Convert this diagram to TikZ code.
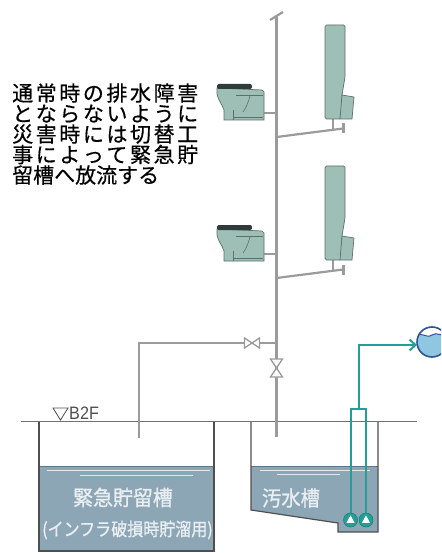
\documentclass[tikz,border=0pt]{standalone}
\usepackage{fontspec}
\usetikzlibrary{arrows.meta}
\newfontfamily\jpfont[FakeBold=0.5]{Noto Sans CJK JP}
\newfontfamily\jpheavy[FakeBold=1.2]{Noto Sans CJK JP}
\newfontfamily\labelfont{Liberation Sans}

\definecolor{pipe}{HTML}{9B9B9B}
\definecolor{fixture}{HTML}{9DBFB5}
\definecolor{fixedge}{HTML}{5E6E6A}
\definecolor{lidcol}{HTML}{2E3B3A}
\definecolor{water}{HTML}{8CA6B6}
\definecolor{tankline}{HTML}{4F4F4F}
\definecolor{tanktext}{HTML}{E8EEF1}
\definecolor{pumpline}{HTML}{23A096}
\definecolor{dropblue}{HTML}{2D5592}
\definecolor{droplight}{HTML}{8FC6E2}

\tikzset{
  pipeline/.style={draw=pipe, line width=2.2pt},
  pipecap/.style={draw=pipe, line width=3pt},
  wall/.style={draw=tankline, line width=1.2pt},
  ground/.style={draw=tankline!80, line width=0.9pt},
  valvebody/.style={draw=pipe, line width=1.3pt, fill=white},
  fixbody/.style={fill=fixture, draw=fixedge, line width=0.7pt},
  fixdetail/.style={draw=fixedge, line width=0.6pt},
  pumppipe/.style={draw=pumpline, line width=2pt},
  shimmer/.style={draw=white!75!water, line width=0.8pt},
  note/.style={anchor=base west, inner sep=0pt, font=\jpfont\fontsize{21pt}{21pt}\selectfont},
  tanklabel/.style={inner sep=0pt, text=tanktext},
  % floor-standing toilet, origin at its top-left corner
  toilet/.pic={
    \path[fixbody] (0,4) -- (45,6) -- (47,8) -- (47,36) -- (7,36) -- (7,26)
      .. controls (5,20) and (1,16) .. (0,10) -- cycle;
    \path[fill=lidcol, rounded corners=2pt] (0,0) rectangle (35,5);
    \path[fixdetail] (19,11) -- (46,11);
    \path[fixdetail] (33,12) .. controls (31,19) and (29,24) .. (26,28);
    \path[fixdetail] (16,26) -- (16,36);
    \path[fixdetail] (16,33) -- (46,33);
  },
  % wall urinal, origin at its top-left corner
  urinal/.pic={
    \path[fixbody, rounded corners=1.5pt] (0,0) -- (20,0) -- (20,52) -- (17,70)
      -- (16,94) -- (0,94) -- cycle;
    \path[fixbody] (17,70) -- (29,72) -- (27,94) -- (15,94) -- cycle;
  },
  valveh/.pic={
    \path[valvebody] (-7.5,-5) -- (-7.5,5) -- (7.5,-5) -- (7.5,5) -- cycle;
  },
  valvev/.pic={
    \path[valvebody] (-6,-9) -- (6,-9) -- (-6,9) -- (6,9) -- cycle;
  },
  pump/.pic={
    \path[fill=pumpline, draw=pumpline!80!black, line width=0.6pt] (0,0) circle (7);
    \path[fill=white] (0,-4.6) -- (4.1,2.9) -- (-4.1,2.9) -- cycle;
  },
}

\begin{document}
\begin{tikzpicture}[x=1pt, y=-1pt]
\useasboundingbox (0,0) rectangle (441,553);
\clip (0,0) rectangle (441,553);

% ---------- explanatory note ----------
\node[note] (n1) at (12,101)   {\makebox[186pt]{通\hfill 常\hfill 時\hfill の\hfill 排\hfill 水\hfill 障\hfill 害}};
\node[note] (n2) at (12,121.5) {\makebox[186pt]{と\hfill な\hfill ら\hfill な\hfill い\hfill よ\hfill う\hfill に}};
\node[note] (n3) at (12,142)   {\makebox[186pt]{災\hfill 害\hfill 時\hfill に\hfill は\hfill 切\hfill 替\hfill 工}};
\node[note] (n4) at (12,162.5) {\makebox[186pt]{事\hfill に\hfill よ\hfill っ\hfill て\hfill 緊\hfill 急\hfill 貯}};
\node[note] (n5) at (12,183)   {留槽へ放流する};

% ---------- tanks ----------
% emergency storage tank
\fill[water] (39,466) rectangle (214,551);
\draw[draw=water!70!black, line width=0.8pt] (39,466) -- (214,466);
\draw[shimmer] (47,470) -- (210,470);
\draw[shimmer] (80,475) -- (193,475);
\draw[wall] (39,421) -- (39,551) -- (214,551) -- (214,421);

% sewage tank with sloped floor and pump pit
\fill[water] (251,466) -- (251,510) -- (338,523) -- (338,532) -- (378,532) -- (378,466) -- cycle;
\draw[draw=water!70!black, line width=0.8pt] (251,466) -- (378,466);
\draw[shimmer] (260,470) -- (370,470);
\draw[shimmer] (277,474) -- (340,474);
\draw[wall] (251,421) -- (251,510) -- (338,523) -- (338,532) -- (378,532) -- (378,421);

\node[tanklabel, font=\jpheavy\fontsize{21pt}{21pt}\selectfont] (lblA) at (123,497.5) {\scalebox{0.95}[1]{緊急貯留槽}};
\node[tanklabel, font=\jpheavy\fontsize{18pt}{18pt}\selectfont] (lblB) at (127.5,530) {\scalebox{0.89}[1]{(インフラ破損時貯溜用)}};
\node[tanklabel, font=\jpheavy\fontsize{21pt}{21pt}\selectfont] (lblC) at (291,498) {\scalebox{0.92}[1]{汚水槽}};

% floor level
\draw[ground] (21,421) -- (417,421);
\draw[tankline, line width=0.8pt] (53,408) -- (68,408) -- (60.5,420) -- cycle;
\node[anchor=base west, inner sep=0pt, font=\labelfont\fontsize{18pt}{18pt}\selectfont, text=tankline] (lvl) at (69,419.5) {\scalebox{0.9}[1]{B2F}};

% ---------- drainage stack ----------
\coordinate (stackTop) at (276.5,16);
\coordinate (stackFoot) at (276.5,437);
\coordinate (tee) at (276.5,343);
\coordinate (bend) at (139,343);
\coordinate (outlet) at (139,438);
\draw[pipeline] (stackTop) -- (stackFoot);
\draw[pipeline] (270,20) -- (283,12);
\draw[pipeline] (tee) -- (bend) -- (outlet);
\pic at (252,343) {valveh};
\pic at (276.5,368) {valvev};

% ---------- fixtures, two floors ----------
\foreach \dy in {0,141} {
  \begin{scope}[yshift=-\dy pt]
    \draw[pipeline] (262,113) -- (276.5,113);
    \pic at (217,84) {toilet};
    \draw[pipeline] (333,118) -- (333,129);
    \draw[pipeline] (276.5,137) -- (343,128.5);
    \draw[pipecap] (343,123.5) -- (343,133.5);
    \pic at (325,25) {urinal};
  \end{scope}
}

% ---------- pump discharge ----------
\coordinate (p1) at (350.5,520);
\coordinate (p2) at (366,520);
\coordinate (hdrL) at (350.5,409);
\coordinate (hdrR) at (366,409);
\coordinate (riser) at (358.5,409);
\coordinate (elbow) at (358.5,345);
\coordinate (outfall) at (417,345);
\draw[pumppipe] (p1) -- (hdrL) -- (hdrR) -- (p2);
\draw[pumppipe, -{Straight Barb[length=6pt, width=11pt]}] (riser) -- (elbow) -- (outfall);
\pic at (p1) {pump};
\pic at (p2) {pump};

% public sewer symbol
\begin{scope}
  \clip (432,342) circle (15);
  \fill[droplight] (416,326) rectangle (448,358);
  \fill[white] (416,326) -- (416,336) .. controls (421,331) and (426,339) .. (432,335)
    .. controls (437,331) and (442,338) .. (448,334) -- (448,326) -- cycle;
  \draw[dropblue, line width=1pt] (416,336) .. controls (421,331) and (426,339) .. (432,335)
    .. controls (437,331) and (442,338) .. (448,334);
\end{scope}
\draw[dropblue, line width=1.6pt] (432,342) circle (15);
\end{tikzpicture}
\end{document}
